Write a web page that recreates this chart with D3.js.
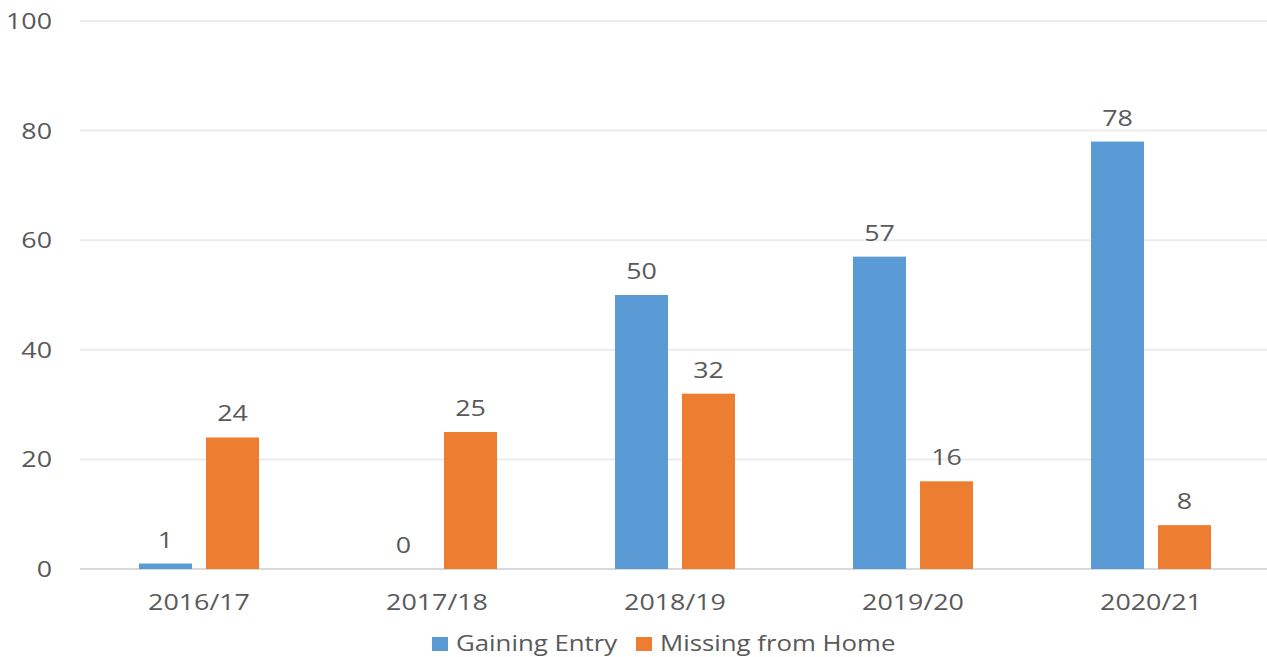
<!DOCTYPE html>
<html>
<head>
<meta charset="utf-8">
<script src="https://cdn.jsdelivr.net/npm/d3@7"></script>
<style>
  html, body { margin: 0; padding: 0; background: #fff; }
  svg { display: block; }
  text { font-family: "Open Sans", "Noto Sans", sans-serif; fill: #595959; }
</style>
</head>
<body>
<svg id="chart" width="1267" height="657"></svg>
<script>
// Incident counts per financial year
const years = ["2016/17", "2017/18", "2018/19", "2019/20", "2020/21"];
const seriesNames = ["Gaining Entry", "Missing from Home"];
const gainingEntry = [1, 0, 50, 57, 78];
const missingFromHome = [24, 25, 32, 16, 8];
const yTicks = [0, 20, 40, 60, 80, 100];
const colors = ["#5B9BD5", "#ED7D31"];

const seriesValues = [gainingEntry, missingFromHome];
const plot = { left: 80, right: 1270, top: 21, bottom: 569 };
const FS = 22, SX = 1.22; // font size and horizontal stretch of text

const svg = d3.select("#chart");

const y = d3.scaleLinear().domain([0, 100]).range([plot.bottom, plot.top]);
const x0 = d3.scaleBand().domain(years).range([plot.left, plot.right]).padding(0);
const x1 = d3.scaleBand().domain(seriesNames).range([59, 179]).paddingInner(14 / 67).paddingOuter(0);

function stretchedText(g, xPos, yPos, str, anchor, size = FS, sx = SX) {
  return g.append("text")
    .attr("transform", `translate(${xPos},${yPos}) scale(${sx},1)`)
    .attr("text-anchor", anchor)
    .style("font-size", size + "px")
    .text(str);
}

// gridlines
const grid = svg.append("g");
yTicks.forEach(t => {
  grid.append("line")
    .attr("x1", plot.left).attr("x2", plot.right)
    .attr("y1", y(t)).attr("y2", y(t))
    .attr("stroke", t === 0 ? "#d9d9d9" : "#ececec")
    .attr("stroke-width", 2);
});

// y tick labels
const yAxis = svg.append("g");
yTicks.forEach(t => {
  stretchedText(yAxis, 52, y(t) + 8, String(t), "end");
});

// bars with value labels
const bars = svg.append("g");
years.forEach((yr, i) => {
  seriesNames.forEach((s, j) => {
    const v = seriesValues[j][i];
    const bx = x0(yr) + x1(s);
    bars.append("rect")
      .attr("x", bx)
      .attr("y", y(v))
      .attr("width", x1.bandwidth())
      .attr("height", plot.bottom - y(v))
      .attr("fill", colors[j]);
    stretchedText(bars, bx + x1.bandwidth() / 2, y(v) - 16, String(v), "middle");
  });
});

// x category labels
const xAxis = svg.append("g");
years.forEach(yr => {
  stretchedText(xAxis, x0(yr) + x0.bandwidth() / 2, 610, yr, "middle");
});

// legend
const legend = svg.append("g");
const legendX = [432, 636];
seriesNames.forEach((s, j) => {
  legend.append("rect")
    .attr("x", legendX[j]).attr("y", 637)
    .attr("width", 16).attr("height", 14)
    .attr("fill", colors[j]);
  stretchedText(legend, legendX[j] + 24, 651, s, "start", 21.5, 1.2);
});
</script>
</body>
</html>
